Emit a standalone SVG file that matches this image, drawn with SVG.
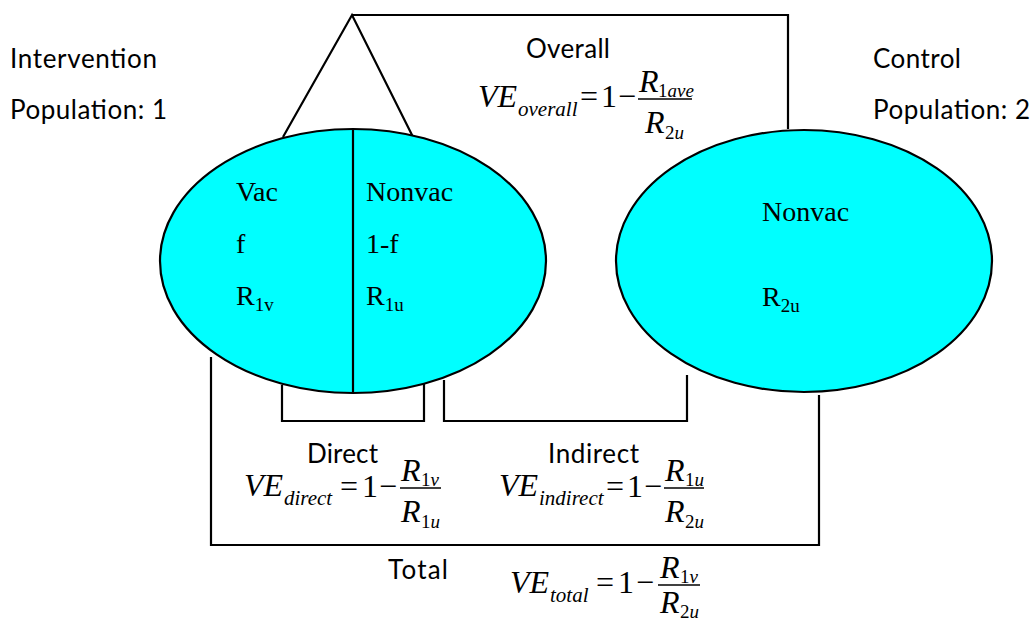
<svg xmlns="http://www.w3.org/2000/svg" width="1034" height="621" viewBox="0 0 1034 621">
<style>
.lbl{font-family:Lato,"Liberation Sans",sans-serif;font-size:26px;fill:#000}
.tr{font-family:"Liberation Serif","Times New Roman",serif;font-size:28px;fill:#000}
.trs{font-family:"Liberation Serif","Times New Roman",serif;font-size:19px}
.m{font-family:"Liberation Serif","Times New Roman",serif;font-size:32px;fill:#000}
.mi{font-style:italic}
.ms{font-family:"Liberation Serif","Times New Roman",serif;font-size:21px;fill:#000}
.fs{font-family:"Liberation Serif","Times New Roman",serif;font-size:19px;fill:#000}
.ln{fill:none;stroke:#000;stroke-width:2.2}
.bar{stroke:#000;stroke-width:1.3}
.ell{fill:#00FFFF;stroke:#000;stroke-width:2.2}
</style>
<rect width="1034" height="621" fill="#fff"/>

<g id="connectors">
  <polyline class="ln" points="283,137 352,15 413,137"/>
  <polyline class="ln" points="352,15 788,15 788,129"/>
  <polyline class="ln" points="282,385 282,421 424,421 424,384"/>
  <polyline class="ln" points="444,380 444,421 687,421 687,375"/>
  <polyline class="ln" points="211,357 211,545 819,545 819,395"/>
</g>

<g id="population1">
  <ellipse class="ell" cx="353" cy="261" rx="193" ry="132"/>
  <line class="ln" x1="353" y1="129" x2="353" y2="393"/>
  <text class="tr" x="236" y="201">Vac</text>
  <text class="tr" x="236" y="253">f</text>
  <text class="tr" x="236" y="305">R<tspan class="trs" dy="6">1v</tspan></text>
  <text class="tr" x="366" y="201">Nonvac</text>
  <text class="tr" x="366" y="253">1-f</text>
  <text class="tr" x="366" y="305">R<tspan class="trs" dy="6">1u</tspan></text>
</g>

<g id="population2">
  <ellipse class="ell" cx="804" cy="261" rx="188" ry="131"/>
  <text class="tr" x="762" y="221">Nonvac</text>
  <text class="tr" x="762" y="306">R<tspan class="trs" dy="6">2u</tspan></text>
</g>

<g id="label-intervention">
  <text class="lbl" x="10" y="68" textLength="147">Intervention</text>
  <text class="lbl" x="10" y="119" textLength="157">Population: 1</text>
</g>
<g id="label-control">
  <text class="lbl" x="873" y="68" textLength="88">Control</text>
  <text class="lbl" x="873" y="119" textLength="157">Population: 2</text>
</g>

<g id="overall">
  <text class="lbl" x="526" y="58" textLength="84">Overall</text>
  <text class="m mi" x="478" y="107">VE</text>
  <text class="ms mi" x="518" y="116">overall</text>
  <text class="m" x="580" y="107">=</text>
  <text class="m" x="601" y="107">1</text>
  <text class="m" x="618" y="107">−</text>
  <line class="bar" x1="638" y1="99" x2="692" y2="99"/>
  <text class="m mi" x="639" y="92">R</text>
  <text class="fs" x="658" y="97">1<tspan class="mi">ave</tspan></text>
  <text class="m mi" x="645" y="133">R</text>
  <text class="fs" x="665" y="139">2<tspan class="mi">u</tspan></text>
</g>

<g id="direct">
  <text class="lbl" x="307" y="463" textLength="71">Direct</text>
  <text class="m mi" x="244" y="496">VE</text>
  <text class="ms mi" x="284" y="505">direct</text>
  <text class="m" x="340" y="497">=</text>
  <text class="m" x="362" y="497">1</text>
  <text class="m" x="379" y="497">−</text>
  <line class="bar" x1="400" y1="488" x2="441" y2="488"/>
  <text class="m mi" x="401" y="481">R</text>
  <text class="fs" x="421" y="486">1<tspan class="mi">v</tspan></text>
  <text class="m mi" x="401" y="522">R</text>
  <text class="fs" x="421" y="528">1<tspan class="mi">u</tspan></text>
</g>

<g id="indirect">
  <text class="lbl" x="548" y="463" textLength="91">Indirect</text>
  <text class="m mi" x="499" y="496">VE</text>
  <text class="ms mi" x="539" y="505">indirect</text>
  <text class="m" x="606" y="497">=</text>
  <text class="m" x="627" y="497">1</text>
  <text class="m" x="644" y="497">−</text>
  <line class="bar" x1="664" y1="488" x2="704" y2="488"/>
  <text class="m mi" x="665" y="481">R</text>
  <text class="fs" x="685" y="486">1<tspan class="mi">u</tspan></text>
  <text class="m mi" x="665" y="522">R</text>
  <text class="fs" x="685" y="528">2<tspan class="mi">u</tspan></text>
</g>

<g id="total">
  <text class="lbl" x="388" y="579" textLength="60">Total</text>
  <text class="m mi" x="510" y="593">VE</text>
  <text class="ms mi" x="550" y="602">total</text>
  <text class="m" x="596" y="593">=</text>
  <text class="m" x="618" y="593">1</text>
  <text class="m" x="636" y="593">−</text>
  <line class="bar" x1="658" y1="585" x2="700" y2="585"/>
  <text class="m mi" x="660" y="578">R</text>
  <text class="fs" x="680" y="583">1<tspan class="mi">v</tspan></text>
  <text class="m mi" x="660" y="613">R</text>
  <text class="fs" x="680" y="618">2<tspan class="mi">u</tspan></text>
</g>
</svg>
